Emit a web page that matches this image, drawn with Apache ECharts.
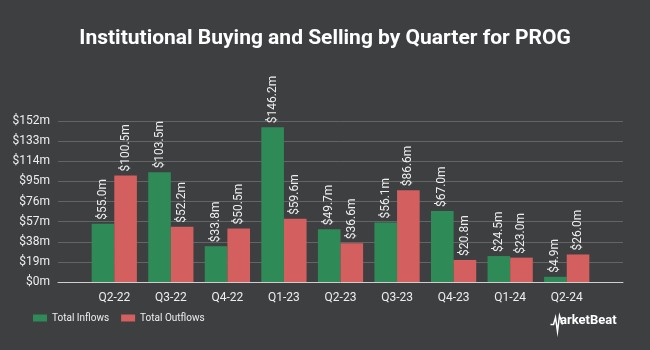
<!DOCTYPE html>
<html>
<head>
<meta charset="utf-8">
<script src="https://cdn.jsdelivr.net/npm/echarts@6/dist/echarts.min.js"></script>
<style>
  html, body { margin: 0; padding: 0; background: #3d3f41; }
  #chart { width: 650px; height: 350px; }
</style>
</head>
<body>
<div id="chart"></div>
<script>
const quarters = ['Q2-22', 'Q3-22', 'Q4-22', 'Q1-23', 'Q2-23', 'Q3-23', 'Q4-23', 'Q1-24', 'Q2-24'];
const inflows = [55.0, 103.5, 33.8, 146.2, 49.7, 56.1, 67.0, 24.5, 4.9];
const outflows = [100.5, 52.2, 50.5, 59.6, 36.6, 86.6, 20.8, 23.0, 26.0];
const yMax = 152;
const yStep = 19;

const textColor = '#eeeeee';
const font = 'Roboto, "Open Sans", sans-serif';

const chart = echarts.init(document.getElementById('chart'));

// rotated value label above each bar
const barLabel = {
  show: true,
  position: 'top',
  rotate: 90,
  align: 'left',
  verticalAlign: 'middle',
  distance: 4,
  color: textColor,
  fontSize: 12,
  fontFamily: font,
  formatter: p => '$' + p.value.toFixed(1) + 'm'
};

chart.setOption({
  backgroundColor: '#3d3f41',
  animation: false,
  title: {
    text: 'Institutional Buying and Selling by Quarter for PROG',
    left: 'center',
    top: 23,
    textStyle: { color: '#ffffff', fontSize: 21, fontWeight: 'bold', fontFamily: font }
  },
  legend: {
    left: 28,
    bottom: 22,
    itemWidth: 14,
    itemHeight: 7,
    itemGap: 12,
    icon: 'rect',
    textStyle: { color: textColor, fontSize: 10, fontFamily: font }
  },
  grid: [
    { left: 58, right: 27, top: 121, bottom: 68 },
    { left: 86, width: 509, top: 121, bottom: 68 }
  ],
  xAxis: [
    {
      type: 'category', gridIndex: 0, data: [''],
      axisLine: { lineStyle: { color: '#cfcfcf', width: 1 } },
      axisTick: { show: false }, axisLabel: { show: false }
    },
    {
      type: 'category', gridIndex: 1, data: quarters,
      axisLine: { show: false }, axisTick: { show: false },
      axisLabel: { color: textColor, fontSize: 12, fontFamily: font, margin: 10 }
    }
  ],
  yAxis: [
    {
      type: 'value', gridIndex: 0, min: 0, max: yMax, interval: yStep,
      axisLine: { show: false }, axisTick: { show: false },
      axisLabel: { color: textColor, fontSize: 12, fontFamily: font, margin: 8, formatter: v => '$' + v + 'm' },
      splitLine: { lineStyle: { color: '#626466', width: 1 } }
    },
    {
      type: 'value', gridIndex: 1, min: 0, max: yMax, interval: yStep,
      show: false, splitLine: { show: false }
    }
  ],
  series: [
    {
      name: 'Total Inflows', type: 'bar', xAxisIndex: 1, yAxisIndex: 1,
      data: inflows, barGap: '0%', barCategoryGap: '20%',
      itemStyle: { color: '#2e8b57' }, label: barLabel
    },
    {
      name: 'Total Outflows', type: 'bar', xAxisIndex: 1, yAxisIndex: 1,
      data: outflows,
      itemStyle: { color: '#d35f5f' }, label: barLabel
    }
  ],
  graphic: [
    {
      type: 'polyline', left: 548, top: 313,
      shape: { points: [[0, 9], [3, 9], [5, 2], [7, 16], [9, 0], [12, 9]] },
      style: { stroke: '#ffffff', lineWidth: 1.5, fill: null }
    },
    {
      type: 'text', left: 560, top: 314,
      style: { text: 'arketBeat', fill: '#ffffff', font: 'bold 13px ' + font }
    }
  ]
});
</script>
</body>
</html>
